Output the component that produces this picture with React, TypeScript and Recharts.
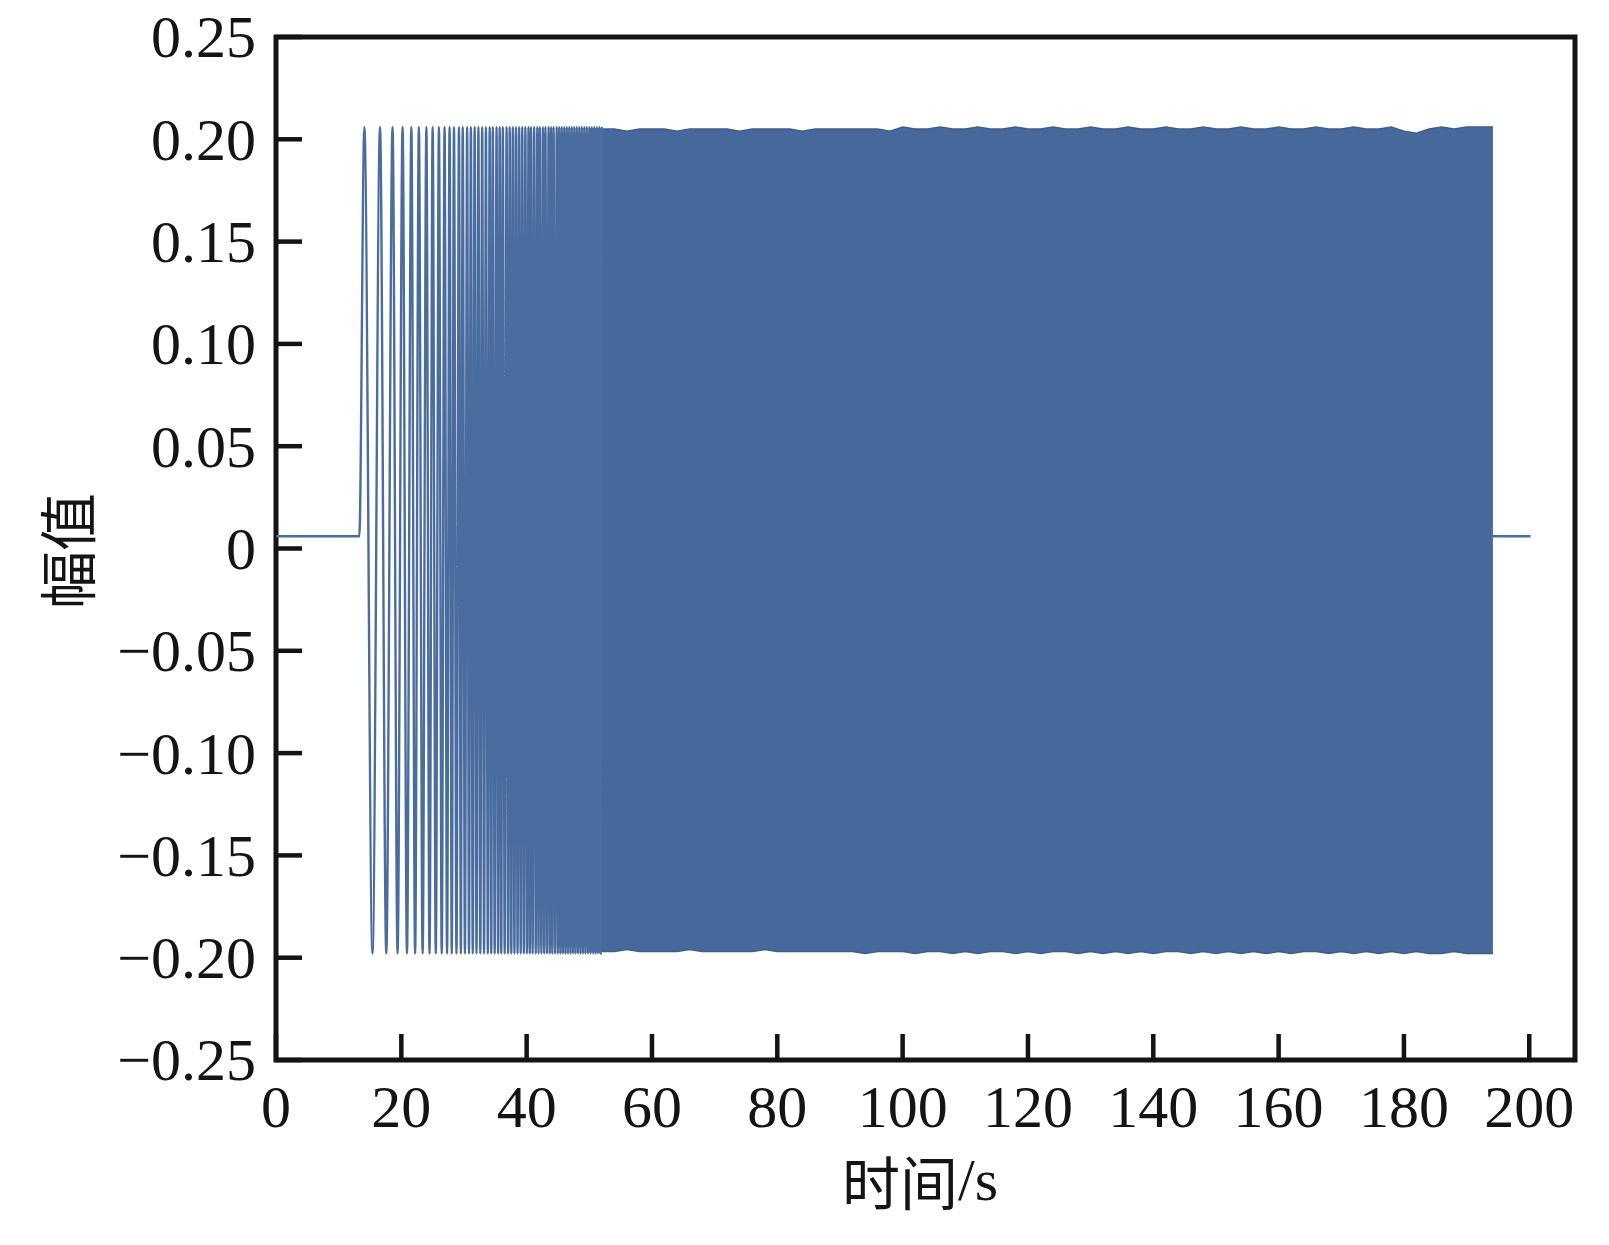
import React from 'react';
import { ComposedChart, Line, Area, XAxis, YAxis, ReferenceArea } from 'recharts';

// swept-sine excitation: flat lead-in, sparse early cycles, then a dense band until ~194 s

const SIGNAL = '#4a6c9f';
const BAND = '#47689b';
const BAND_EDGE = '#3f5e8e';
const INK = '#141414';
const SERIF = '"Liberation Serif", "Times New Roman", serif';
const CJK = '"Noto Sans CJK SC", "Noto Sans", sans-serif';

const leadTimes = [0, 13.3];
const leadValues = [0.006, 0.006];

const tailTimes = [194.2, 200.2];
const tailValues = [0.006, 0.006];

const PEAK = 0.206;
const TROUGH = -0.198;

// crests of the sweep (spacing shrinks as frequency rises)
const peakTimes = [
  14.1, 16.6, 18.6, 20.2, 21.6, 22.8, 24.0, 25.0, 26.0, 26.9,
  27.7, 28.4, 29.2, 29.8, 30.5, 31.1, 31.7, 32.3, 32.9, 33.5,
  34.1, 34.6, 35.2, 35.7, 36.2, 36.8, 37.3, 37.8, 38.3, 38.8,
  39.3, 39.8, 40.3, 40.7, 41.2, 41.7, 42.1, 42.6, 43.0, 43.5,
  43.9, 44.3, 44.8, 45.2, 45.6, 46.0, 46.4, 46.8, 47.2, 47.6,
  48.0, 48.4, 48.8, 49.2, 49.6, 50.0, 50.4, 50.8, 51.2, 51.6, 52.0,
];

const troughTimes = [
  15.4, 17.6, 19.4, 20.9, 22.2, 23.4, 24.5, 25.5, 26.45, 27.3,
  28.05, 28.8, 29.5, 30.15, 30.8, 31.4, 32.0, 32.6, 33.2, 33.8,
  34.35, 34.9, 35.45, 35.95, 36.5, 37.05, 37.55, 38.05, 38.55, 39.05,
  39.55, 40.05, 40.5, 40.95, 41.45, 41.9, 42.35, 42.8, 43.25, 43.7,
  44.1, 44.55, 45.0, 45.4, 45.8, 46.2, 46.6, 47.0, 47.4, 47.8,
  48.2, 48.6, 49.0, 49.4, 49.8, 50.2, 50.6, 51.0, 51.4, 51.8,
];

// dense part: upper / lower envelope of the band
const bandTimes = [
  50, 52, 54, 56, 58, 60, 62, 64, 66, 68,
  70, 72, 74, 76, 78, 80, 82, 84, 86, 88,
  90, 92, 94, 96, 98, 100, 102, 104, 106, 108,
  110, 112, 114, 116, 118, 120, 122, 124, 126, 128,
  130, 132, 134, 136, 138, 140, 142, 144, 146, 148,
  150, 152, 154, 156, 158, 160, 162, 164, 166, 168,
  170, 172, 174, 176, 178, 180, 182, 184, 186, 188,
  190, 192, 194.2,
];

const bandHigh = [
  0.205, 0.205, 0.205, 0.204, 0.205, 0.205, 0.205, 0.204, 0.205, 0.205,
  0.205, 0.205, 0.204, 0.205, 0.205, 0.205, 0.205, 0.204, 0.205, 0.205,
  0.205, 0.205, 0.205, 0.205, 0.204, 0.206, 0.205, 0.205, 0.206, 0.205,
  0.205, 0.206, 0.205, 0.205, 0.206, 0.205, 0.205, 0.206, 0.205, 0.205,
  0.206, 0.205, 0.205, 0.206, 0.205, 0.205, 0.206, 0.205, 0.205, 0.206,
  0.205, 0.205, 0.206, 0.205, 0.205, 0.206, 0.205, 0.205, 0.206, 0.205,
  0.205, 0.206, 0.205, 0.205, 0.206, 0.204, 0.203, 0.205, 0.206, 0.205,
  0.206, 0.206, 0.206,
];

const bandLow = [
  -0.197, -0.197, -0.197, -0.196, -0.197, -0.197, -0.197, -0.197, -0.196, -0.197,
  -0.197, -0.197, -0.197, -0.197, -0.196, -0.197, -0.197, -0.197, -0.197, -0.197,
  -0.197, -0.197, -0.198, -0.197, -0.197, -0.197, -0.198, -0.197, -0.197, -0.198,
  -0.197, -0.198, -0.197, -0.197, -0.198, -0.197, -0.198, -0.197, -0.197, -0.198,
  -0.197, -0.198, -0.197, -0.198, -0.197, -0.198, -0.197, -0.197, -0.198, -0.197,
  -0.198, -0.197, -0.198, -0.197, -0.198, -0.197, -0.198, -0.197, -0.197, -0.198,
  -0.197, -0.198, -0.197, -0.198, -0.197, -0.198, -0.197, -0.198, -0.198, -0.197,
  -0.198, -0.198, -0.198,
];

const xTicks = [0, 20, 40, 60, 80, 100, 120, 140, 160, 180, 200];
const yTicks = [0.25, 0.2, 0.15, 0.1, 0.05, 0, -0.05, -0.1, -0.15, -0.2, -0.25];
const yTickLabels = ['0.25', '0.20', '0.15', '0.10', '0.05', '0', '\u22120.05', '\u22120.10', '\u22120.15', '\u22120.20', '\u22120.25'];

const X_MAX = 207.3;

const sweepData = [
  ...leadTimes.map((t, i) => ({ t, v: leadValues[i] })),
  ...peakTimes.map((t) => ({ t, v: PEAK })),
  ...troughTimes.map((t) => ({ t, v: TROUGH })),
].sort((a, b) => a.t - b.t);

const tailData = tailTimes.map((t, i) => ({ t, v: tailValues[i] }));

const bandData = bandTimes.map((t, i) => ({ t, range: [bandLow[i], bandHigh[i]] }));

function LeftTick({ x, y, payload }: any) {
  const label = yTickLabels[yTicks.indexOf(payload.value)];
  return (
    <g>
      <line x1={x} x2={x + 26} y1={y} y2={y} stroke={INK} strokeWidth={4.5} />
      <text x={x - 20} y={y} dy="0.34em" textAnchor="end" fontFamily={SERIF} fontSize={60} fill={INK}>
        {label}
      </text>
    </g>
  );
}

function BottomTick({ x, y, payload }: any) {
  return (
    <g>
      <line x1={x} x2={x} y1={y} y2={y - 26} stroke={INK} strokeWidth={4.5} />
      <text x={x} y={y + 67} textAnchor="middle" fontFamily={SERIF} fontSize={60} fill={INK}>
        {payload.value}
      </text>
    </g>
  );
}

const xTitle = () => (
  <text x={920} y={1180} textAnchor="middle" dominantBaseline="central" fill={INK} fontSize={58}>
    <tspan fontFamily={CJK}>时间</tspan>
    <tspan fontFamily={SERIF} fontSize={60}>/s</tspan>
  </text>
);

const yTitle = () => (
  <text
    transform="translate(65,551) rotate(-90)"
    textAnchor="middle"
    dominantBaseline="central"
    fontFamily={CJK}
    fontSize={58}
    fill={INK}
  >
    幅值
  </text>
);

export default function App() {
  return (
    <div style={{ position: 'absolute', left: 0, top: 0, width: 1609, height: 1245, background: '#fff' }}>
      <ComposedChart width={1609} height={1245} margin={{ top: 37, right: 34, bottom: 0, left: 0 }}>
        <XAxis
          dataKey="t"
          type="number"
          domain={[0, X_MAX]}
          ticks={xTicks}
          interval={0}
          allowDataOverflow
          axisLine={false}
          tickLine={false}
          tickSize={0}
          tickMargin={0}
          height={185}
          tick={<BottomTick />}
          label={xTitle}
        />
        <YAxis
          type="number"
          domain={[-0.25, 0.25]}
          ticks={yTicks}
          interval={0}
          allowDataOverflow
          axisLine={false}
          tickLine={false}
          tickSize={0}
          tickMargin={0}
          width={276}
          tick={<LeftTick />}
          label={yTitle}
        />
        <Area
          data={bandData}
          dataKey="range"
          type="linear"
          stroke={BAND_EDGE}
          strokeWidth={1.5}
          fill={BAND}
          fillOpacity={1}
          dot={false}
          activeDot={false}
          isAnimationActive={false}
        />
        <Line
          data={sweepData}
          dataKey="v"
          type="monotone"
          stroke={SIGNAL}
          strokeWidth={2.4}
          dot={false}
          activeDot={false}
          isAnimationActive={false}
        />
        <Line
          data={tailData}
          dataKey="v"
          type="linear"
          stroke={SIGNAL}
          strokeWidth={2.4}
          dot={false}
          activeDot={false}
          isAnimationActive={false}
        />
        <ReferenceArea
          x1={0}
          x2={X_MAX}
          y1={-0.25}
          y2={0.25}
          fill="none"
          stroke={INK}
          strokeWidth={5}
          ifOverflow="visible"
        />
      </ComposedChart>
    </div>
  );
}
